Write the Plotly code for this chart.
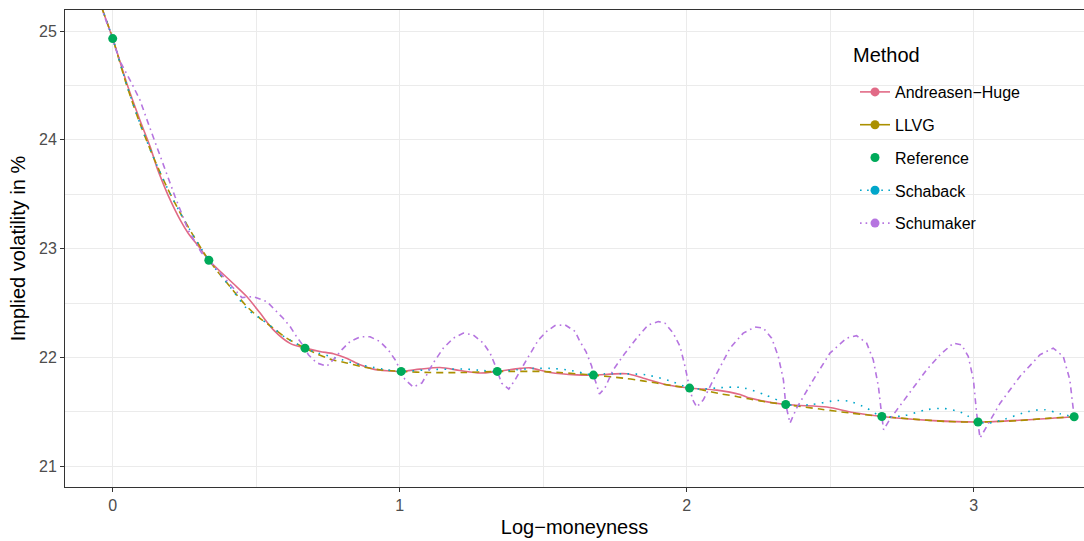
import plotly.graph_objects as go

# ---------------- data ----------------
methods = ["Andreasen\u2212Huge", "LLVG", "Reference", "Schaback", "Schumaker"]
colors = ["#E16A86", "#AA9000", "#00AA5A", "#00A6CA", "#B675E0"]

x_ref = [0, 0.335, 0.67, 1.005, 1.34, 1.675, 2.01, 2.345, 2.68, 3.015, 3.35]
y_ref = [24.93, 22.894, 22.086, 21.872, 21.872, 21.838, 21.719, 21.568, 21.458, 21.407, 21.455]

x_ah = [-0.05, 0, 0.049, 0.095, 0.13, 0.153, 0.171, 0.2, 0.235, 0.263, 0.304, 0.335, 0.42, 0.467,
        0.513, 0.56, 0.618, 0.67, 0.722, 0.769, 0.815, 0.862, 0.908, 0.955, 1.005, 1.071, 1.14,
        1.21, 1.28, 1.34, 1.419, 1.455, 1.524, 1.617, 1.675, 1.79, 1.849, 1.93, 2.01, 2.105,
        2.186, 2.22, 2.345, 2.488, 2.58, 2.68, 2.859, 3.015, 3.208, 3.35]
y_ah = [25.30, 24.93, 24.52, 24.18, 23.94, 23.754, 23.63, 23.45, 23.264, 23.142, 23.005, 22.894,
        22.68, 22.56, 22.41, 22.254, 22.13, 22.086, 22.055, 22.034, 21.994, 21.933, 21.893,
        21.878, 21.872, 21.893, 21.908, 21.88, 21.857, 21.872, 21.90, 21.905, 21.862, 21.84,
        21.838, 21.85, 21.81, 21.75, 21.719, 21.70, 21.66, 21.627, 21.568, 21.545, 21.495,
        21.458, 21.42, 21.407, 21.43, 21.455]

x_llvg = [-0.05, 0, 0.049, 0.095, 0.141, 0.188, 0.235, 0.281, 0.335, 0.409, 0.467, 0.513, 0.56,
          0.606, 0.67, 0.711, 0.757, 0.815, 0.873, 0.931, 1.005, 1.106, 1.222, 1.34, 1.396,
          1.489, 1.559, 1.617, 1.675, 1.779, 1.837, 1.895, 1.953, 2.01, 2.058, 2.116, 2.174,
          2.22, 2.29, 2.345, 2.464, 2.569, 2.68, 2.789, 2.906, 3.015, 3.15, 3.266, 3.35]
y_llvg = [25.30, 24.93, 24.50, 24.15, 23.846, 23.57, 23.33, 23.12, 22.894, 22.65, 22.47, 22.36,
          22.27, 22.178, 22.086, 22.034, 21.985, 21.95, 21.912, 21.887, 21.872, 21.862, 21.862,
          21.872, 21.872, 21.872, 21.862, 21.85, 21.838, 21.81, 21.79, 21.765, 21.74, 21.719,
          21.70, 21.667, 21.642, 21.618, 21.587, 21.568, 21.526, 21.49, 21.458, 21.434, 21.412,
          21.407, 21.419, 21.443, 21.455]

x_sb = [-0.05, 0, 0.049, 0.095, 0.141, 0.188, 0.235, 0.281, 0.335, 0.409, 0.467, 0.513, 0.56,
        0.60, 0.67, 0.699, 0.78, 0.862, 0.943, 1.005, 1.094, 1.175, 1.233, 1.291, 1.34, 1.408,
        1.466, 1.524, 1.582, 1.64, 1.675, 1.715, 1.79, 1.86, 1.942, 2.01, 2.047, 2.105, 2.162,
        2.2, 2.27, 2.319, 2.345, 2.43, 2.523, 2.569, 2.627, 2.68, 2.755, 2.836, 2.894, 2.952,
        2.976, 3.015, 3.057, 3.109, 3.19, 3.248, 3.30, 3.35]
y_sb = [25.30, 24.93, 24.504, 24.15, 23.846, 23.57, 23.33, 23.12, 22.894, 22.65, 22.45, 22.36,
        22.27, 22.187, 22.086, 22.055, 21.994, 21.933, 21.893, 21.872, 21.887, 21.893, 21.893,
        21.88, 21.872, 21.887, 21.90, 21.90, 21.887, 21.857, 21.838, 21.85, 21.85, 21.84,
        21.785, 21.719, 21.71, 21.72, 21.728, 21.72, 21.66, 21.605, 21.568, 21.566, 21.605,
        21.596, 21.535, 21.458, 21.465, 21.52, 21.532, 21.50, 21.468, 21.407, 21.398, 21.434,
        21.504, 21.52, 21.483, 21.455]

x_sm = [-0.05, 0, 0.026, 0.066, 0.095, 0.124, 0.165, 0.217, 0.263, 0.31, 0.335, 0.40, 0.45, 0.49,
        0.537, 0.594, 0.618, 0.641, 0.67, 0.682, 0.711, 0.746, 0.769, 0.798, 0.827, 0.862,
        0.897, 0.931, 0.96, 0.984, 1.005, 1.018, 1.047, 1.077, 1.094, 1.117, 1.152, 1.187,
        1.222, 1.256, 1.291, 1.315, 1.332, 1.34, 1.355, 1.38, 1.402, 1.442, 1.483, 1.512,
        1.541, 1.576, 1.611, 1.628, 1.649, 1.669, 1.675, 1.686, 1.696, 1.715, 1.744, 1.785,
        1.826, 1.866, 1.901, 1.924, 1.953, 1.977, 1.994, 2.01, 2.021, 2.035, 2.058, 2.093,
        2.151, 2.197, 2.238, 2.267, 2.296, 2.319, 2.337, 2.345, 2.36, 2.383, 2.441, 2.499,
        2.557, 2.592, 2.627, 2.65, 2.668, 2.68, 2.686, 2.707, 2.767, 2.836, 2.883, 2.929,
        2.958, 2.981, 2.999, 3.01, 3.022, 3.045, 3.092, 3.161, 3.231, 3.277, 3.312, 3.335, 3.35]
y_sm = [25.30, 24.93, 24.72, 24.52, 24.366, 24.15, 23.846, 23.48, 23.17, 22.96, 22.894, 22.70,
        22.55, 22.56, 22.514, 22.36, 22.285, 22.19, 22.086, 22.025, 21.95, 21.92, 21.98, 22.07,
        22.147, 22.19, 22.19, 22.147, 22.07, 21.98, 21.872, 21.80, 21.728, 21.765, 21.84,
        21.95, 22.086, 22.178, 22.224, 22.208, 22.132, 22.04, 21.933, 21.872, 21.765, 21.71,
        21.795, 21.979, 22.16, 22.24, 22.294, 22.30, 22.24, 22.147, 22.055, 21.92, 21.838,
        21.75, 21.664, 21.72, 21.887, 22.04, 22.178, 22.30, 22.33, 22.316, 22.224, 22.10,
        21.92, 21.719, 21.611, 21.544, 21.611, 21.795, 22.086, 22.224, 22.28, 22.27, 22.178,
        22.01, 21.795, 21.568, 21.397, 21.535, 21.795, 22.04, 22.178, 22.20, 22.132, 21.979,
        21.734, 21.458, 21.336, 21.428, 21.642, 21.887, 22.025, 22.132, 22.116, 22.01, 21.795,
        21.49, 21.26, 21.366, 21.58, 21.826, 22.025, 22.086, 22.01, 21.795, 21.455]

x_ticks = [0, 1, 2, 3]
y_ticks = [21, 22, 23, 24, 25]

# ---------------- figure ----------------
FONT = "Liberation Sans, Arial, Helvetica, sans-serif"
W, H = 1084, 541
ML, MR, MT, MB = 65, 0, 10, 54
PW, PH = W - ML - MR, H - MT - MB

DASH_LLVG = "7px,5px"
DASH_SB = "1.6px,6.4px"
DASH_SM = "1.6px,4px,6px,4px"
LW = 1.6

fig = go.Figure()

curves = [
    (x_ah, y_ah, colors[0], "solid", "spline"),
    (x_llvg, y_llvg, colors[1], DASH_LLVG, "spline"),
    (x_sb, y_sb, colors[3], DASH_SB, "spline"),
    (x_sm, y_sm, colors[4], DASH_SM, "linear"),
]
for xs, ys, c, d, shp in curves:
    fig.add_trace(go.Scatter(x=xs, y=ys, mode="lines", showlegend=False, hoverinfo="skip",
                             line=dict(color=c, width=LW, dash=d, shape=shp, smoothing=0.8)))

fig.add_trace(go.Scatter(x=x_ref, y=y_ref, mode="markers", showlegend=False,
                         marker=dict(color=colors[2], size=9)))

# legend-only entries
leg_dash = ["solid", "solid", None, "1.6px,5.5px", "1.6px,4px"]
for i, m in enumerate(methods):
    if leg_dash[i] is None:
        fig.add_trace(go.Scatter(x=[None], y=[None], mode="markers", name=m, legendgroup=m,
                                 marker=dict(color=colors[i], size=9)))
    else:
        fig.add_trace(go.Scatter(x=[None], y=[None], mode="lines+markers", name=m, legendgroup=m,
                                 line=dict(color=colors[i], width=LW, dash=leg_dash[i]),
                                 marker=dict(color=colors[i], size=9)))

def px2paper_x(px):
    return (px - ML) / PW

def px2paper_y(py):
    return 1 - (py - MT) / PH

fig.add_shape(type="rect", xref="paper", yref="paper",
              x0=px2paper_x(842), x1=px2paper_x(1041), y0=px2paper_y(252), y1=px2paper_y(33),
              fillcolor="white", line=dict(width=0), layer="between")

fig.add_annotation(text="Method", xref="paper", yref="paper",
                   x=px2paper_x(851), y=px2paper_y(55), xanchor="left", yanchor="middle",
                   showarrow=False, font=dict(family=FONT, size=20, color="black"))

axis_common = dict(showline=True, mirror=True, linecolor="#333333", linewidth=1,
                   ticks="outside", ticklen=4, tickwidth=1, tickcolor="#333333",
                   tickfont=dict(family=FONT, size=16, color="#4D4D4D"),
                   showgrid=True, gridcolor="#EBEBEB", gridwidth=1.1, zeroline=False)

fig.update_layout(
    width=W, height=H,
    margin=dict(l=ML, r=MR, t=MT, b=MB),
    paper_bgcolor="white", plot_bgcolor="white",
    font=dict(family=FONT, color="black"),
    xaxis=dict(range=[-0.1662, 3.3843], tickvals=x_ticks, ticktext=[str(v) for v in x_ticks],
               minor=dict(dtick=0.5, tick0=0, showgrid=True, gridcolor="#EBEBEB", gridwidth=0.5, ticks=""),
               title=dict(text="Log\u2212moneyness", font=dict(family=FONT, size=20, color="black"), standoff=6),
               **axis_common),
    yaxis=dict(range=[20.81, 25.193], tickvals=y_ticks, ticktext=[str(v) for v in y_ticks],
               minor=dict(dtick=0.5, tick0=0, showgrid=True, gridcolor="#EBEBEB", gridwidth=0.5, ticks=""),
               title=dict(text="Implied volatility in %", font=dict(family=FONT, size=20, color="black"), standoff=8),
               **axis_common),
    legend=dict(x=px2paper_x(855), y=px2paper_y(75), xanchor="left", yanchor="top",
                bgcolor="rgba(0,0,0,0)", borderwidth=0,
                traceorder="grouped", tracegroupgap=9,
                font=dict(family=FONT, size=16, color="black")),
    showlegend=True,
)

fig.write_html("out.html", config={"displayModeBar": False},
               post_script="document.body.style.margin='0';document.body.style.overflow='hidden';")
